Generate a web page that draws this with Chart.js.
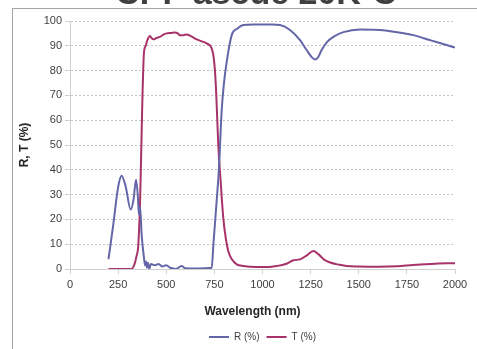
<!DOCTYPE html>
<html>
<head>
<meta charset="utf-8">
<script src="https://cdn.jsdelivr.net/npm/chart.js@4/dist/chart.umd.min.js"></script>
<style>
  html, body { margin: 0; padding: 0; background: #fff; }
  #wrap { position: relative; width: 477px; height: 349px; overflow: hidden; }
  #frame { position: absolute; left: 12px; top: 8px; right: -2px; bottom: -2px;
           border-left: 1px solid #a6a6a6; border-top: 1px solid #a6a6a6; }
  #stage { position: absolute; left: 0; top: 0; }
</style>
</head>
<body>
<div id="wrap">
  <div id="frame"></div>
  <canvas id="stage" width="477" height="349"></canvas>
</div>
<script>
// 反射率 R (%)
const rWave = [200, 225, 250, 268, 290, 315, 330, 343, 352, 358, 364, 372, 385, 390, 395, 400, 405, 412, 420, 440, 460, 480, 500, 520, 550, 580, 600, 650, 700, 736, 745, 758, 774, 788, 800, 814, 840, 870, 900, 950, 1000, 1050, 1091, 1143, 1195, 1229, 1255, 1273, 1290, 1307, 1335, 1368, 1420, 1506, 1610, 1700, 1783, 1870, 1956, 2000];
const rVals = [4, 18, 33, 37.6, 33, 24, 28, 36, 30, 22, 25, 14, 4, 1.5, 3, 0.5, 2.5, 0, 2, 1.5, 2, 1, 1.5, 0.5, 0, 1.2, 0.3, 0.2, 0.3, 0.5, 10, 23.5, 41, 64, 75, 83.5, 94.3, 97, 98.4, 98.6, 98.6, 98.6, 98.4, 96.4, 92.3, 88.3, 85.5, 84.5, 85.5, 88.3, 91.5, 93.6, 95.5, 96.6, 96.4, 95.5, 94.3, 92.3, 90.3, 89.3];

// 透過率 T (%)
const tWave = [200, 250, 300, 320, 335, 345, 355, 365, 375, 384, 393, 402, 415, 425, 433, 450, 467, 485, 502, 525, 545, 560, 571, 590, 606, 630, 658, 685, 710, 736, 745, 753, 760, 770, 783, 796, 810, 822, 840, 866, 900, 970, 1030, 1074, 1120, 1160, 1195, 1230, 1264, 1290, 1320, 1351, 1400, 1437, 1500, 1610, 1700, 1782, 1870, 1956, 2000];
const tVals = [0, 0, 0, 0, 2, 5, 10, 30, 65, 87, 90, 92.3, 94, 93, 92.6, 93.2, 93.6, 94.5, 95, 95.2, 95.4, 95, 94.3, 94.3, 94.6, 93.8, 92.6, 91.8, 91, 89, 86, 80, 70, 50.5, 35, 20.8, 12, 7.3, 4, 1.9, 1.2, 0.8, 0.8, 1.2, 2, 3.5, 3.9, 5.5, 7.3, 6, 3.8, 2.6, 1.7, 1.2, 1, 0.9, 1.1, 1.6, 2, 2.3, 2.3];

const seriesNames = ['R (%)', 'T (%)'];
const xTitle = 'Wavelength (nm)';
const yTitle = 'R, T (%)';
const chartTitle = 'CPF ascue 20K-C';

const FONT = "'Liberation Sans', Arial, sans-serif";
const BLUE = '#6466a8';
const RED = '#a8336a';

function toPoints(xs, ys) {
  return xs.map((x, i) => ({x: x, y: ys[i]}));
}

// 上端で切れているタイトル
const cutTitle = {
  id: 'cutTitle',
  afterDraw(chart) {
    const ctx = chart.ctx;
    ctx.save();
    ctx.font = 'bold 34px ' + FONT;
    ctx.fillStyle = '#404040';
    ctx.textAlign = 'center';
    ctx.textBaseline = 'alphabetic';
    ctx.fillText(chartTitle, 256, 4);
    ctx.restore();
  }
};

const chart = new Chart(document.getElementById('stage'), {
  type: 'scatter',
  data: {
    datasets: [
      {
        label: seriesNames[0],
        data: toPoints(rWave, rVals),
        borderColor: BLUE,
        backgroundColor: BLUE,
        borderWidth: 2,
        showLine: true,
        pointRadius: 0,
        cubicInterpolationMode: 'monotone'
      },
      {
        label: seriesNames[1],
        data: toPoints(tWave, tVals),
        borderColor: RED,
        backgroundColor: RED,
        borderWidth: 2,
        showLine: true,
        pointRadius: 0,
        cubicInterpolationMode: 'monotone'
      }
    ]
  },
  options: {
    responsive: false,
    animation: false,
    events: [],
    layout: { padding: { top: 21, right: 22, left: 0, bottom: -3 } },
    plugins: {
      tooltip: { enabled: false },
      legend: {
        display: true,
        position: 'bottom',
        fullSize: false,
        labels: {
          usePointStyle: true,
          pointStyle: 'line',
          pointStyleWidth: 20,
          padding: 7,
          color: '#404040',
          font: { family: FONT, size: 10 }
        }
      }
    },
    scales: {
      x: {
        type: 'linear',
        min: 0,
        max: 2000,
        afterFit(scale) { scale.height = 56; },
        ticks: {
          stepSize: 250,
          padding: 4,
          color: '#404040',
          font: { family: FONT, size: 11 },
          callback: (v) => String(v)
        },
        grid: {
          drawOnChartArea: false,
          drawTicks: true,
          tickLength: 5,
          tickColor: '#d0d0d0'
        },
        border: { color: '#d0d0d0' },
        title: {
          display: true,
          text: xTitle + '      ',
          color: '#262626',
          font: { family: FONT, size: 12, weight: 'bold' },
          padding: { top: 0, bottom: 6 }
        }
      },
      y: {
        min: 0,
        max: 100,
        afterFit(scale) { scale.width = 70; },
        ticks: {
          stepSize: 10,
          padding: 3,
          color: '#404040',
          font: { family: FONT, size: 11 },
          callback: (v) => String(v)
        },
        grid: {
          color: (c) => c.tick && c.tick.value === 0 ? 'rgba(0,0,0,0)' : '#c4c4c4',
          lineWidth: 1,
          drawTicks: true,
          tickLength: 5,
          tickColor: '#d0d0d0',
          tickBorderDash: []
        },
        border: { color: '#d0d0d0', dash: [2, 2] },
        title: {
          display: true,
          text: yTitle,
          color: '#262626',
          font: { family: FONT, size: 12, weight: 'bold' },
          padding: { top: 17, bottom: 0 }
        }
      }
    }
  },
  plugins: [cutTitle]
});
</script>
</body>
</html>
